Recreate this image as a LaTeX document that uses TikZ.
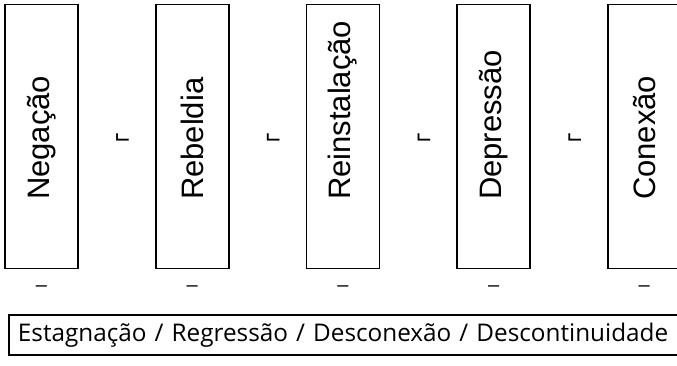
\documentclass[tikz,border=0pt]{standalone}
\usepackage{fontspec}
\usepackage{graphicx}
\setmainfont{Liberation Sans}
\newfontfamily\captionfont{Open Sans}
\usetikzlibrary{positioning,calc}
% stage label, read upwards from a fixed foot
\newcommand{\stagelabel}[1]{\rotatebox{90}{\makebox[127pt][l]{#1}}}
\tikzset{
  stagebox/.style={draw=black, line width=1.8pt, minimum width=73pt, minimum height=264pt, inner sep=0pt, outer sep=0pt, font=\fontsize{31}{34}\selectfont},
  turnmark/.style={inner sep=0pt, outer sep=0pt, font=\fontsize{26}{26}\selectfont},
  dashmark/.style={inner sep=0pt, outer sep=0pt, font=\fontsize{20}{20}\selectfont},
  basebox/.style={draw=black, line width=1.8pt, anchor=north west, text width=672pt, align=left, minimum height=40pt, inner xsep=9pt, font=\captionfont\fontsize{24.3}{26}\selectfont}
}
\begin{document}
\begin{tikzpicture}[x=1pt, y=1pt, node distance=77.7pt]
  \useasboundingbox (0,0) rectangle (677,-366);
  \clip (0,0) rectangle (677,-366);
  % the five stages
  \node[stagebox] (neg) at (41.5,-136.5) {\stagelabel{Negação}};
  \node[stagebox, right=of neg] (reb) {\stagelabel{Rebeldia}};
  \node[stagebox, right=of reb] (rein) {\stagelabel{Reinstalação}};
  \node[stagebox, right=of rein] (dep) {\stagelabel{Depressão}};
  \node[stagebox, right=of dep] (con) {\stagelabel{Conexão}};
  % marks between the stages
  \node[turnmark, right=37pt of neg] (m1) {\rotatebox{180}{¬}};
  \node[turnmark, right=37pt of reb] (m2) {\rotatebox{180}{¬}};
  \node[turnmark, right=37pt of rein] (m3) {\rotatebox{180}{¬}};
  \node[turnmark, right=37pt of dep] (m4) {\rotatebox{180}{¬}};
  % marks under the stages
  \node[dashmark, below=17pt of neg] (d1) {–};
  \node[dashmark, below=17pt of reb] (d2) {–};
  \node[dashmark, below=17pt of rein] (d3) {–};
  \node[dashmark, below=17pt of dep] (d4) {–};
  \node[dashmark, below=17pt of con] (d5) {–};
  % bottom line
  \node[basebox] (base) at (8,-314) {Estagnação / Regressão / Desconexão / Descontinuidade};
\end{tikzpicture}
\end{document}
